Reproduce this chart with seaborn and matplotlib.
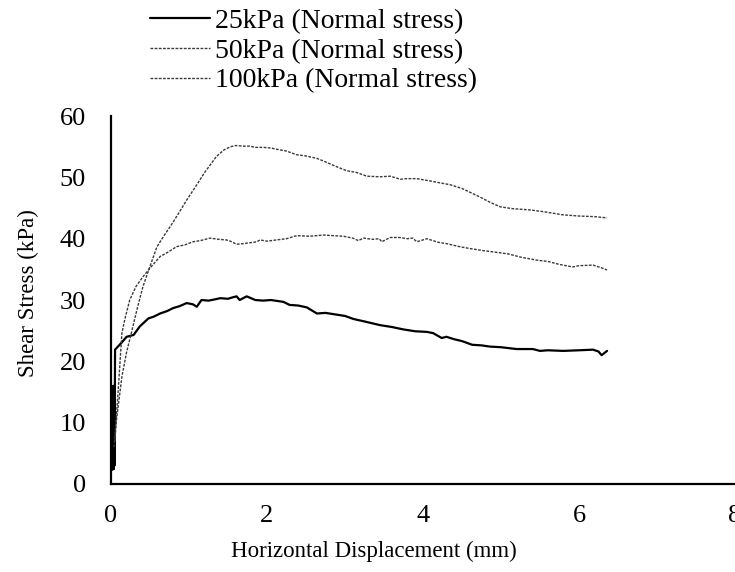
import numpy as np
import pandas as pd
import seaborn as sns
import matplotlib.pyplot as plt

# Data (horizontal displacement in mm, shear stress in kPa)
disp_25 = [0.010, 0.015, 0.020, 0.025, 0.030, 0.035, 0.040, 0.045, 0.050, 0.052,
           0.14, 0.20, 0.29, 0.37, 0.48, 0.55, 0.63, 0.72, 0.80, 0.88, 0.97, 1.05,
           1.10, 1.16, 1.25, 1.33, 1.40, 1.50, 1.55, 1.61, 1.65, 1.74, 1.85, 1.95,
           2.05, 2.21, 2.29, 2.40, 2.51, 2.64, 2.75, 2.85, 3.00, 3.11, 3.25, 3.45,
           3.60, 3.75, 3.90, 4.05, 4.13, 4.24, 4.30, 4.40, 4.50, 4.63, 4.75, 4.86,
           5.00, 5.20, 5.41, 5.50, 5.60, 5.80, 6.00, 6.18, 6.25, 6.29, 6.36]
stress_25 = [16.0, 2.3, 15.5, 2.5, 16.0, 2.4, 15.0, 3.0, 16.0, 21.9,
             23.1, 24.0, 24.3, 25.7, 27.0, 27.3, 27.8, 28.2, 28.7, 29.0, 29.5, 29.3,
             28.9, 30.0, 29.9, 30.1, 30.3, 30.2, 30.4, 30.6, 30.0, 30.6, 30.0, 29.9,
             30.0, 29.7, 29.2, 29.1, 28.8, 27.8, 27.9, 27.7, 27.4, 26.9, 26.5, 25.9,
             25.6, 25.2, 24.9, 24.8, 24.6, 23.8, 24.0, 23.6, 23.3, 22.7, 22.6, 22.4,
             22.3, 22.0, 22.0, 21.7, 21.8, 21.7, 21.8, 21.9, 21.6, 21.0, 21.7]

disp_50 = [0.04, 0.09, 0.14, 0.18, 0.24, 0.32, 0.41, 0.50, 0.63, 0.73, 0.84, 0.95,
           1.05, 1.15, 1.27, 1.38, 1.48, 1.53, 1.61, 1.70, 1.87, 1.91, 2.00, 2.12,
           2.25, 2.38, 2.55, 2.72, 2.85, 2.98, 3.10, 3.17, 3.24, 3.35, 3.44, 3.47,
           3.58, 3.70, 3.80, 3.87, 3.92, 4.05, 4.20, 4.30, 4.47, 4.60, 4.75, 4.99,
           5.10, 5.25, 5.46, 5.60, 5.75, 5.92, 6.00, 6.18, 6.30, 6.36]
stress_50 = [6.0, 14.8, 24.6, 27.0, 30.0, 32.2, 33.8, 35.2, 37.1, 37.8, 38.7, 39.0,
             39.5, 39.7, 40.1, 39.9, 39.8, 39.6, 39.1, 39.2, 39.5, 39.8, 39.6, 39.8,
             40.0, 40.5, 40.4, 40.6, 40.5, 40.4, 40.1, 39.7, 40.1, 39.9, 40.0, 39.5,
             40.2, 40.2, 40.0, 40.1, 39.5, 40.0, 39.4, 39.2, 38.7, 38.4, 38.1, 37.7,
             37.5, 37.0, 36.5, 36.3, 35.8, 35.4, 35.6, 35.7, 35.2, 34.9]

disp_100 = [0.05, 0.07, 0.14, 0.20, 0.27, 0.34, 0.41, 0.50, 0.59, 0.67, 0.76, 0.87,
            0.97, 1.10, 1.20, 1.27, 1.35, 1.45, 1.53, 1.60, 1.70, 1.78, 1.85, 1.95,
            2.05, 2.12, 2.25, 2.38, 2.50, 2.64, 2.72, 2.81, 2.92, 3.02, 3.15, 3.28,
            3.45, 3.58, 3.71, 3.79, 3.92, 4.10, 4.35, 4.50, 4.73, 4.85, 4.99, 5.15,
            5.37, 5.55, 5.79, 6.00, 6.20, 6.36]
stress_100 = [7.0, 10.4, 17.5, 21.5, 25.1, 28.8, 32.2, 35.5, 38.7, 40.3, 42.0, 44.2,
              46.3, 48.8, 50.8, 52.0, 53.4, 54.5, 55.0, 55.2, 55.1, 55.1, 54.9, 54.9,
              54.8, 54.6, 54.3, 53.7, 53.5, 53.1, 52.7, 52.2, 51.6, 51.1, 50.8, 50.2,
              50.1, 50.2, 49.7, 49.8, 49.8, 49.4, 48.8, 48.2, 46.8, 46.0, 45.2, 44.9,
              44.7, 44.4, 43.9, 43.7, 43.6, 43.4]

labels = ['25kPa (Normal stress)', '50kPa (Normal stress)', '100kPa (Normal stress)']

sns.set_style('white')
plt.rcParams['font.family'] = ['Liberation Serif', 'DejaVu Serif']
plt.rcParams['text.color'] = 'black'
plt.rcParams['axes.labelcolor'] = 'black'
plt.rcParams['xtick.color'] = 'black'
plt.rcParams['ytick.color'] = 'black'

fig = plt.figure(figsize=(7.35, 5.72), dpi=100)
ax = fig.add_axes([0.151, 0.154, 0.849, 0.643])

styles = [
    dict(color='black', linewidth=1.6, linestyle='-'),
    dict(color='#3a3a3a', linewidth=1.0, linestyle=(0, (2, 1))),
    dict(color='#3a3a3a', linewidth=1.0, linestyle=(0, (2, 1))),
]
series = [(disp_25, stress_25), (disp_50, stress_50), (disp_100, stress_100)]
for (xs, ys), lab, st in zip(series, labels, styles):
    df = pd.DataFrame({'x': xs, 'y': ys})
    sns.lineplot(data=df, x='x', y='y', ax=ax, label=lab, sort=False,
                 estimator=None, **st)

ax.set_xlim(0, 8)
ax.set_ylim(0, 60)
ax.set_xticks(np.arange(0, 9, 2))
ax.set_yticks(np.arange(0, 61, 10))
ax.tick_params(length=0, labelsize=19)
ax.tick_params(axis='x', pad=15)
ax.tick_params(axis='y', pad=18)
for s in ['top', 'right']:
    ax.spines[s].set_visible(False)
for s in ['left', 'bottom']:
    ax.spines[s].set_color('black')
    ax.spines[s].set_linewidth(1.6)
ax.set_xlabel('Horizontal Displacement (mm)', fontsize=16.5, labelpad=12)
ax.set_ylabel('Shear Stress (kPa)', fontsize=16.5, labelpad=15)
ax.xaxis.set_label_coords(0.421, -0.155)
ax.yaxis.label.set_y(0.519)

ax.get_legend().remove()
handles, labs = ax.get_legend_handles_labels()
fig.legend(handles, labs, loc='upper left', bbox_to_anchor=(0.204, 0.985),
           frameon=False, borderpad=0, borderaxespad=0, handlelength=2.16,
           handletextpad=0.18, labelspacing=0.15, fontsize=20)

fig.savefig('out.png', dpi=100)
